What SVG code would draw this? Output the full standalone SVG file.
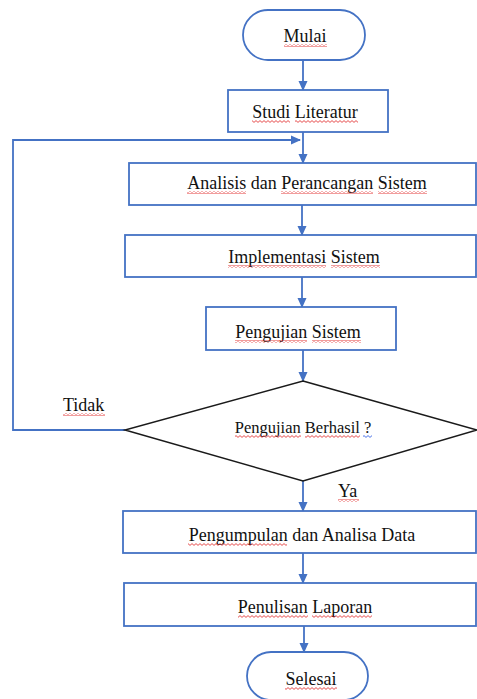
<svg xmlns="http://www.w3.org/2000/svg" width="477" height="699" viewBox="0 0 477 699">
<style>
.box{fill:#fff;stroke:#4472C4;stroke-width:1.8}
.dia{fill:#fff;stroke:#1a1a1a;stroke-width:1.5}
.con{fill:none;stroke:#4472C4;stroke-width:1.8}
.wv{fill:url(#wavy)}
.wb{fill:url(#wavyb)}
</style>
<defs>
<marker id="ah" markerWidth="10" markerHeight="10" refX="9" refY="5" orient="auto" markerUnits="userSpaceOnUse">
<path d="M0,0.5 L10,5 L0,9.5 Z" fill="#4472C4"/>
</marker>
<pattern id="wavy" width="4" height="3" patternUnits="userSpaceOnUse">
<path d="M0,0.6 L2,2.4 L4,0.6" fill="none" stroke="#e02020" stroke-width="0.8"/>
</pattern>
<pattern id="wavyb" width="4" height="3" patternUnits="userSpaceOnUse">
<path d="M0,0.6 L2,2.4 L4,0.6" fill="none" stroke="#2050e0" stroke-width="0.8"/>
</pattern>
</defs>
<rect width="477" height="699" fill="#fff"/>
<g font-family="Liberation Serif" font-size="18" fill="#111" text-anchor="middle">
<g id="connectors">
<line class="con" x1="303" y1="60" x2="303" y2="90" marker-end="url(#ah)"/>
<line class="con" x1="303" y1="132" x2="303" y2="163" marker-end="url(#ah)"/>
<polyline class="con" points="125,430 13,430 13,140 300,140" marker-end="url(#ah)"/>
<line class="con" x1="302" y1="205" x2="302" y2="235" marker-end="url(#ah)"/>
<line class="con" x1="302" y1="277" x2="302" y2="307" marker-end="url(#ah)"/>
<line class="con" x1="303" y1="350" x2="303" y2="381" marker-end="url(#ah)"/>
<line class="con" x1="303" y1="481" x2="303" y2="511" marker-end="url(#ah)"/>
<line class="con" x1="303" y1="553" x2="303" y2="583" marker-end="url(#ah)"/>
<line class="con" x1="304" y1="626" x2="304" y2="652" marker-end="url(#ah)"/>
<text x="63" y="411" text-anchor="start" font-family="Liberation Serif">Tidak</text>
<rect class="wv" x="63" y="413" width="42" height="3"/>
<text x="338" y="497" text-anchor="start" font-family="Liberation Serif">Ya</text>
<rect class="wv" x="338" y="499" width="21" height="3"/>
</g>
<g id="mulai">
<rect class="box" x="243" y="10" width="122" height="50" rx="25"/>
<text x="305" y="42" font-family="Liberation Serif">Mulai</text>
<rect class="wv" x="284" y="44" width="43" height="3"/>
</g>
<g id="studi">
<rect class="box" x="228" y="90" width="160" height="42"/>
<text x="305" y="118" font-family="Liberation Serif">Studi Literatur</text>
<rect class="wv" x="252" y="120" width="38" height="3"/>
<rect class="wv" x="295" y="120" width="63" height="3"/>
</g>
<g id="analisis">
<rect class="box" x="129" y="163" width="347" height="42"/>
<text x="307" y="189" font-family="Liberation Serif">Analisis dan Perancangan Sistem</text>
<rect class="wv" x="187" y="191" width="59" height="3"/>
<rect class="wv" x="281" y="191" width="92" height="3"/>
<rect class="wv" x="378" y="191" width="49" height="3"/>
</g>
<g id="implementasi">
<rect class="box" x="125" y="235" width="351" height="42"/>
<text x="304" y="263" font-family="Liberation Serif">Implementasi Sistem</text>
<rect class="wv" x="228" y="265" width="98" height="3"/>
<rect class="wv" x="331" y="265" width="49" height="3"/>
</g>
<g id="pengujian">
<rect class="box" x="206" y="307" width="190" height="43"/>
<text x="298" y="338" font-family="Liberation Serif">Pengujian Sistem</text>
<rect class="wv" x="235" y="340" width="72" height="3"/>
<rect class="wv" x="312" y="340" width="49" height="3"/>
</g>
<g id="keputusan">
<polygon class="dia" points="303,381 477,430 303,481 125,430"/>
<text x="303" y="433" font-size="16.5" font-family="Liberation Serif">Pengujian Berhasil ?</text>
<rect class="wv" x="235" y="435" width="66" height="3"/>
<rect class="wv" x="305" y="435" width="55" height="3"/>
<rect class="wb" x="363" y="435" width="9" height="3"/>
</g>
<g id="pengumpulan">
<rect class="box" x="123" y="511" width="353" height="42"/>
<text x="302" y="541" font-family="Liberation Serif">Pengumpulan dan Analisa Data</text>
<rect class="wv" x="188" y="543" width="99" height="3"/>
</g>
<g id="penulisan">
<rect class="box" x="124" y="583" width="352" height="43"/>
<text x="305" y="613" font-family="Liberation Serif">Penulisan Laporan</text>
<rect class="wv" x="238" y="615" width="70" height="3"/>
<rect class="wv" x="312" y="615" width="60" height="3"/>
</g>
<g id="selesai">
<rect class="box" x="247" y="652" width="121" height="48" rx="24"/>
<text x="311" y="685" font-family="Liberation Serif">Selesai</text>
<rect class="wv" x="285" y="687" width="52" height="3"/>
</g>
</g>
</svg>
